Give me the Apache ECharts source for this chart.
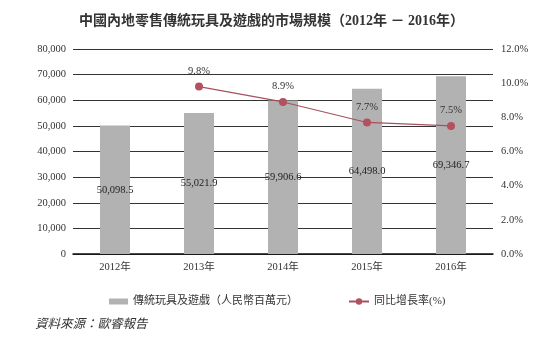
<!DOCTYPE html>
<html><head><meta charset="utf-8">
<script src="https://cdn.jsdelivr.net/npm/echarts@6/dist/echarts.min.js"></script>
<style>html,body{margin:0;padding:0;background:#fff}#c{width:543px;height:340px}</style>
</head><body><div id="c"></div>
<script>
const categories = ['2012年','2013年','2014年','2015年','2016年'];
const marketSize = [50098.5, 55021.9, 59906.6, 64498.0, 69346.7];
const growthRate = [null, 9.8, 8.9, 7.7, 7.5];
const titleText = '中國內地零售傳統玩具及遊戲的市場規模（2012年 － 2016年）';
const barName = '傳統玩具及遊戲（人民幣百萬元）';
const lineName = '同比增長率(%)';
const sourceText = '資料來源：歐睿報告';

const serif = '"Liberation Serif","DejaVu Serif","Noto Sans CJK TC",serif';
const chart = echarts.init(document.getElementById('c'));
chart.setOption({
  animation: false,
  backgroundColor: '#fff',
  title: {text: titleText, left: 'center', top: 9,
    textStyle: {fontFamily: serif, fontSize: 14, fontWeight: 'bold', color: '#333'}},
  grid: {left: 73, right: 50, top: 49, bottom: 86},
  xAxis: {type: 'category', data: categories,
    axisLine: {lineStyle: {color: '#111', width: 1.5}}, axisTick: {show: false},
    axisLabel: {fontFamily: serif, fontSize: 10.5, color: '#333', margin: 8}},
  yAxis: [
    {type: 'value', min: 0, max: 80000, interval: 10000,
      axisLine: {show: false}, axisTick: {show: false},
      splitLine: {lineStyle: {color: '#333', width: 1}},
      axisLabel: {fontFamily: serif, fontSize: 10.5, color: '#333', margin: 7,
        formatter: v => v.toLocaleString('en-US')}},
    {type: 'value', min: 0, max: 12, interval: 2,
      axisLine: {show: false}, axisTick: {show: false}, splitLine: {show: false},
      axisLabel: {fontFamily: serif, fontSize: 10.5, color: '#333', margin: 8,
        formatter: v => v.toFixed(1) + '%'}}
  ],
  legend: [
    {data: [{name: barName, icon: 'rect'}], left: 104, top: 291, itemWidth: 19, itemHeight: 6, itemGap: 5,
      textStyle: {fontFamily: serif, fontSize: 11, color: '#333', padding: [0, 0, 0, 0]}},
    {data: [lineName], left: 343, top: 291, itemWidth: 20, itemHeight: 8,
      textStyle: {fontFamily: serif, fontSize: 11, color: '#333'}}
  ],
  series: [
    {name: barName, type: 'bar', data: marketSize, barWidth: 30, itemStyle: {color: '#b2b2b2'},
      label: {show: true, position: 'inside', fontFamily: serif, fontSize: 10.5, color: '#222',
        formatter: p => p.value.toLocaleString('en-US', {minimumFractionDigits: 1, maximumFractionDigits: 1})}},
    {name: lineName, type: 'line', yAxisIndex: 1, data: growthRate, symbol: 'circle', symbolSize: 8,
      lineStyle: {color: '#a9505f', width: 1.2}, itemStyle: {color: '#b2515f'},
      label: {show: true, position: 'top', distance: 6, fontFamily: serif, fontSize: 10.5, color: '#333',
        formatter: p => p.value.toFixed(1) + '%'}}
  ],
  graphic: [{type: 'text', left: 35, top: 318,
    style: {text: sourceText, fontFamily: serif, fontSize: 12.5, fontStyle: 'italic', fill: '#333'}}]
});
</script></body></html>
